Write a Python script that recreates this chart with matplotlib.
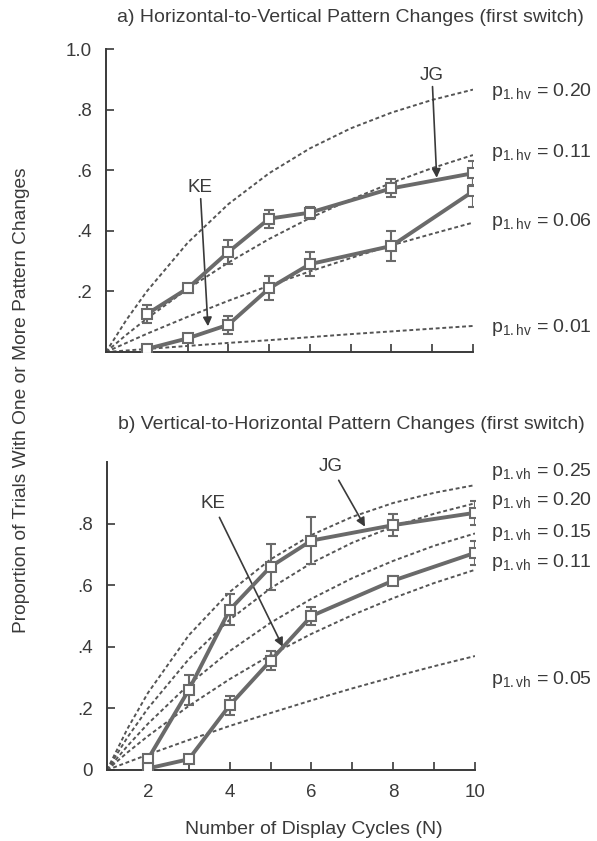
import matplotlib
matplotlib.use("Agg")
import matplotlib.pyplot as plt

plt.rcParams['font.family'] = ['Liberation Sans', 'DejaVu Sans']
plt.rcParams['mathtext.fontset'] = 'custom'
plt.rcParams['mathtext.rm'] = 'Liberation Sans'
plt.rcParams['mathtext.it'] = 'Liberation Sans'

# ---------------- data ----------------
n_obs = [2, 3, 4, 5, 6, 8, 10]

# panel a) horizontal-to-vertical
a_jg = [0.125, 0.21, 0.33, 0.44, 0.46, 0.54, 0.59]
a_jg_err = [0.03, 0.015, 0.04, 0.03, 0.02, 0.03, 0.04]
a_ke = [0.01, 0.045, 0.09, 0.21, 0.29, 0.35, 0.53]
a_ke_err = [0.0, 0.0, 0.03, 0.04, 0.04, 0.05, 0.05]

# panel b) vertical-to-horizontal
b_jg = [0.035, 0.26, 0.52, 0.66, 0.745, 0.795, 0.835]
b_jg_err = [0.0, 0.05, 0.05, 0.075, 0.075, 0.035, 0.04]
b_ke = [0.005, 0.035, 0.21, 0.355, 0.50, 0.615, 0.705]
b_ke_err = [0.0, 0.0, 0.03, 0.03, 0.03, 0.015, 0.04]

# model curves
n_curve = [1, 1.5, 2, 3, 4, 5, 6, 7, 8, 9, 10]
a_p20 = [0, 0.106, 0.20, 0.36, 0.488, 0.59, 0.672, 0.738, 0.79, 0.832, 0.866]
a_p11 = [0, 0.057, 0.11, 0.208, 0.295, 0.373, 0.442, 0.503, 0.558, 0.607, 0.65]
a_p06 = [0, 0.030, 0.06, 0.116, 0.169, 0.219, 0.266, 0.31, 0.352, 0.39, 0.427]
a_p01 = [0, 0.005, 0.01, 0.02, 0.03, 0.039, 0.049, 0.059, 0.068, 0.077, 0.086]
b_p25 = [0, 0.134, 0.25, 0.4375, 0.578, 0.684, 0.763, 0.822, 0.867, 0.90, 0.925]
b_p20 = [0, 0.106, 0.20, 0.36, 0.488, 0.59, 0.672, 0.738, 0.79, 0.832, 0.866]
b_p15 = [0, 0.078, 0.15, 0.2775, 0.386, 0.478, 0.556, 0.623, 0.679, 0.728, 0.768]
b_p11 = [0, 0.057, 0.11, 0.208, 0.295, 0.373, 0.442, 0.503, 0.558, 0.607, 0.65]
b_p05 = [0, 0.025, 0.05, 0.0975, 0.143, 0.185, 0.226, 0.265, 0.302, 0.337, 0.37]

a_labels = [(r'$\mathrm{p_{1.hv}}$ = 0.20', 0.86),
            (r'$\mathrm{p_{1.hv}}$ = 0.11', 0.66),
            (r'$\mathrm{p_{1.hv}}$ = 0.06', 0.43),
            (r'$\mathrm{p_{1.hv}}$ = 0.01', 0.08)]
b_labels = [(r'$\mathrm{p_{1.vh}}$ = 0.25', 0.97),
            (r'$\mathrm{p_{1.vh}}$ = 0.20', 0.875),
            (r'$\mathrm{p_{1.vh}}$ = 0.15', 0.77),
            (r'$\mathrm{p_{1.vh}}$ = 0.11', 0.675),
            (r'$\mathrm{p_{1.vh}}$ = 0.05', 0.295)]

INK = '#3a3a3a'
LINE = '#6a6a6a'
DASH = '#555555'
FS = 13.5

fig = plt.figure(figsize=(5.97, 8.41), dpi=100)
ax_a = fig.add_axes([106/597, 1-352/841, 367/597, 303/841])
ax_b = fig.add_axes([107/597, 1-770/841, 368/597, 308/841])


def style(ax):
    ax.set_xlim(1, 10)
    ax.set_ylim(0, 1.0)
    for s in ['top', 'right']:
        ax.spines[s].set_visible(False)
    for s in ['left', 'bottom']:
        ax.spines[s].set_color(INK)
        ax.spines[s].set_linewidth(1.4)
    ax.tick_params(direction='in', length=5.5, width=1.2, color=INK,
                   labelcolor=INK, labelsize=13.5, pad=10)
    ax.set_xticks(range(2, 11))


def draw_data(ax, y, e):
    ax.errorbar(n_obs, y, yerr=e, color=LINE, lw=2.8, elinewidth=1.5,
                capsize=3.5, capthick=1.5, marker='s', ms=7.5,
                mfc='white', mec=LINE, mew=1.5, zorder=4)


def draw_curve(ax, y):
    ax.plot(n_curve, y, color=DASH, lw=1.4, dashes=(2.0, 1.4), zorder=2)


# ---- panel a ----
style(ax_a)
for c in [a_p20, a_p11, a_p06, a_p01]:
    draw_curve(ax_a, c)
draw_data(ax_a, a_jg, a_jg_err)
draw_data(ax_a, a_ke, a_ke_err)
ax_a.set_yticks([0.2, 0.4, 0.6, 0.8, 1.0])
ax_a.set_yticklabels(['.2', '.4', '.6', '.8', '1.0'])
ax_a.set_xticklabels([])
for txt, yv in a_labels:
    ax_a.text(10.45, yv, txt, fontsize=14, color=INK, va='center', ha='left',
              clip_on=False)
ax_a.annotate('KE', xy=(3.5, 0.085), xytext=(3.0, 0.515),
              color=INK, fontsize=FS, ha='left', va='bottom',
              arrowprops=dict(arrowstyle='-|>', color=INK, lw=1.2,
                              mutation_scale=13, shrinkA=0, shrinkB=0))
ax_a.annotate('JG', xy=(9.11, 0.575), xytext=(8.7, 0.885),
              color=INK, fontsize=FS, ha='left', va='bottom',
              arrowprops=dict(arrowstyle='-|>', color=INK, lw=1.2,
                              mutation_scale=13, shrinkA=0, shrinkB=0))
fig.text(350/597, 1-18/841, 'a) Horizontal-to-Vertical Pattern Changes (first switch)',
         ha='center', va='center', fontsize=14, color=INK)

# ---- panel b ----
style(ax_b)
for c in [b_p25, b_p20, b_p15, b_p11, b_p05]:
    draw_curve(ax_b, c)
draw_data(ax_b, b_jg, b_jg_err)
draw_data(ax_b, b_ke, b_ke_err)
ax_b.set_yticks([0, 0.2, 0.4, 0.6, 0.8])
ax_b.set_yticklabels(['0', '.2', '.4', '.6', '.8'])
ax_b.set_xticklabels(['2', '', '4', '', '6', '', '8', '', '10'])
for txt, yv in b_labels:
    ax_b.text(10.4, yv, txt, fontsize=14, color=INK, va='center', ha='left',
              clip_on=False)
ax_b.annotate('KE', xy=(5.3, 0.40), xytext=(3.89, 0.865),
              color=INK, fontsize=FS, ha='right', va='center',
              arrowprops=dict(arrowstyle='-|>', color=INK, lw=1.2,
                              mutation_scale=13, shrinkA=2, shrinkB=0))
ax_b.annotate('JG', xy=(7.31, 0.79), xytext=(6.77, 0.985),
              color=INK, fontsize=FS, ha='right', va='center',
              arrowprops=dict(arrowstyle='-|>', color=INK, lw=1.2,
                              mutation_scale=13, shrinkA=2, shrinkB=0))
fig.text(351/597, 1-425/841, 'b) Vertical-to-Horizontal Pattern Changes (first switch)',
         ha='center', va='center', fontsize=14, color=INK)

fig.text(22/597, 1-400/841, 'Proportion of Trials With One or More Pattern Changes',
         rotation=90, ha='center', va='center', fontsize=13.8, color=INK)
fig.text(314/597, 1-829/841, 'Number of Display Cycles (N)',
         ha='center', va='center', fontsize=14, color=INK)

fig.savefig('out.png', dpi=100, facecolor='white')
